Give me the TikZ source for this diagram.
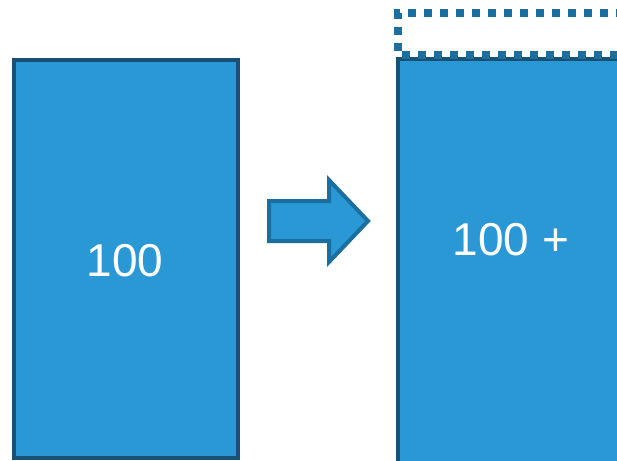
\documentclass[tikz,border=0pt]{standalone}
\usepackage{fontspec}
\setmainfont{Liberation Sans}
\definecolor{boxfill}{RGB}{41,152,213}
\definecolor{boxline}{RGB}{26,80,115}
\definecolor{arrline}{RGB}{26,111,160}
\begin{document}
\begin{tikzpicture}[x=1pt,y=-1pt,
  bar/.style={draw=boxline,fill=boxfill,line width=4pt},
  lbl/.style={text=white,font=\fontsize{46}{50}\selectfont,inner sep=0pt},
  ghost/.style={draw=arrline,line width=8pt,dash pattern=on 8pt off 8pt},
  bigarrow/.style={draw=arrline,fill=boxfill,line width=4pt,line join=miter}]
\useasboundingbox (0,0) rectangle (617,460);
\clip (0,0) rectangle (617,460);
\draw[bar] (14,60) rectangle (238,458);
\node[lbl] (a) at (125,261) {100};
\draw[bar] (398,59) rectangle (650,500);
\node[lbl] (b) at (511,240) {100 +};
\draw[ghost] (640,13) -- (398,13) -- (398,55) -- (640,55);
\draw[bigarrow] (269,201) -- (329,201) -- (329,180) -- (368,221) -- (329,262) -- (329,241) -- (269,241) -- cycle;
\end{tikzpicture}
\end{document}
